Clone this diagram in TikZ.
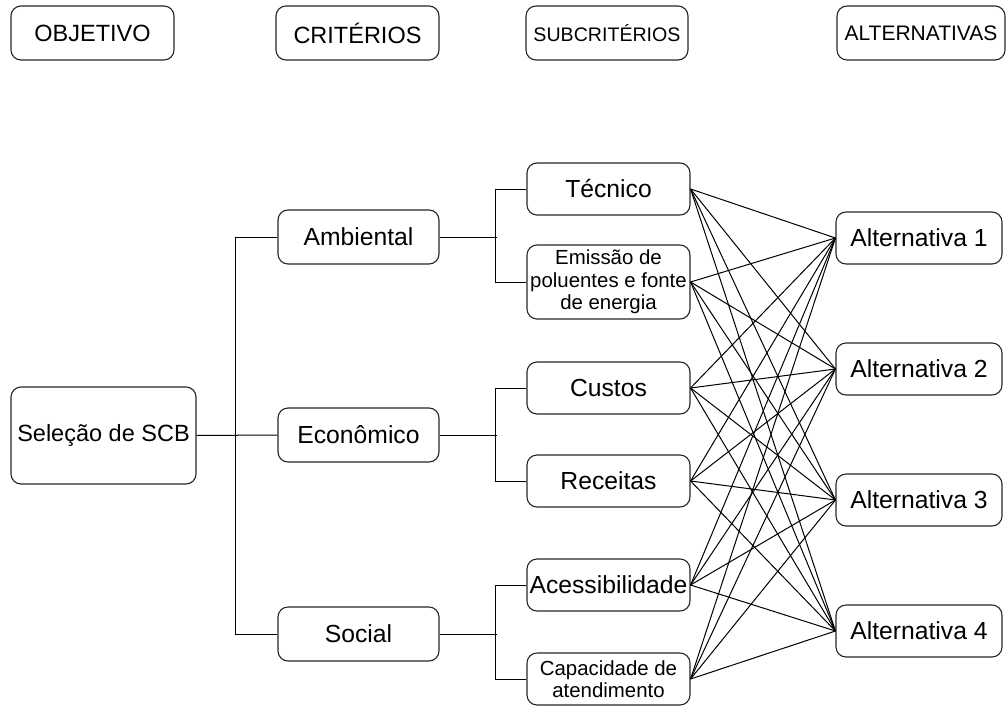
\documentclass[tikz,border=0pt]{standalone}
\usepackage{fontspec}
\setmainfont{Liberation Sans}
\begin{document}
\begin{tikzpicture}[x=1pt,y=-1pt,
  box/.style={draw=black!85, line width=1.1pt, rounded corners=10pt, inner sep=0pt, align=center,
    font=\fontsize{24.7}{27}\selectfont},
  hdrfont/.style={font=\fontsize{23.5}{26}\selectfont},
  smallfont/.style={font=\fontsize{20.4}{22.5}\selectfont},
  hdr/.style={box, minimum height=54pt},
  crit/.style={box, minimum width=161pt, minimum height=54pt},
  sub/.style={box, minimum width=163pt, minimum height=52pt},
  alt/.style={box, minimum width=166pt, minimum height=52pt},
  conn/.style={draw=black, line width=1pt}]
\useasboundingbox (0,0) rectangle (1008,706);
% headers
\node[hdr, minimum width=163pt, hdrfont] (h1) at (92.5,33) {OBJETIVO};
\node[hdr, minimum width=163pt, hdrfont] (h2) at (357.5,33) {CRITÉRIOS};
\node[hdr, minimum width=162pt, font=\fontsize{19.6}{22}\selectfont] (h3) at (607,33) {SUBCRITÉRIOS};
\node[hdr, minimum width=168pt, font=\fontsize{21}{23}\selectfont] (h4) at (921,33) {ALTERNATIVAS};
% goal
\node[box, minimum width=185pt, minimum height=97pt, hdrfont] (sel) at (103.5,435.5) {Seleção de SCB};
% criteria
\node[crit] (amb) at (358.5,237) {Ambiental};
\node[crit] (eco) at (358.5,435) {Econômico};
\node[crit] (soc) at (358.5,634) {Social};
% subcriteria
\node[sub] (tec) at (608.5,189) {Técnico};
\node[sub, minimum height=74pt, smallfont] (emi) at (608.5,282) {Emissão de\\poluentes e fonte\\de energia};
\node[sub] (cus) at (608.5,388) {Custos};
\node[sub] (rec) at (608.5,481) {Receitas};
\node[sub] (ace) at (608.5,585) {Acessibilidade};
\node[sub, smallfont] (cap) at (608.5,679) {Capacidade de\\atendimento};
% alternatives
\node[alt] (a1) at (919,238) {Alternativa 1};
\node[alt] (a2) at (919,369) {Alternativa 2};
\node[alt] (a3) at (919,500) {Alternativa 3};
\node[alt] (a4) at (919,631) {Alternativa 4};
% tree connectors
\draw[conn] (sel.east) -- (eco.west);
\draw[conn] (amb.west) -- ([xshift=-42pt]amb.west) |- (soc.west);
\draw[conn] (amb.east) -- ([xshift=57pt]amb.east);
\draw[conn] (eco.east) -- ([xshift=57pt]eco.east);
\draw[conn] (soc.east) -- ([xshift=57pt]soc.east);
\draw[conn] (tec.west) -- ([xshift=-31pt]tec.west) |- (emi.west);
\draw[conn] (cus.west) -- ([xshift=-31pt]cus.west) |- (rec.west);
\draw[conn] (ace.west) -- ([xshift=-31pt]ace.west) |- (cap.west);
% full mesh
\foreach \s in {tec,emi,cus,rec,ace,cap}{
  \foreach \a in {a1,a2,a3,a4}{
    \draw[conn] (\s.east) -- (\a.west);
  }
}
\end{tikzpicture}
\end{document}
